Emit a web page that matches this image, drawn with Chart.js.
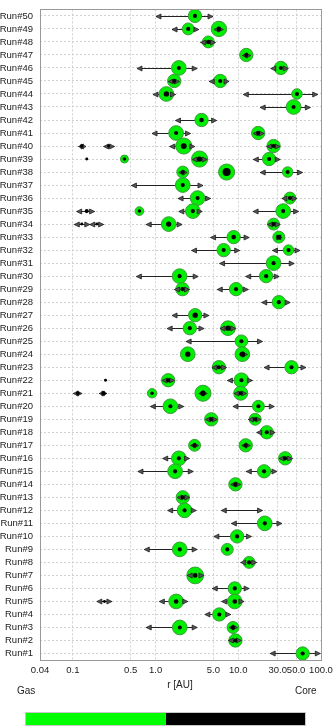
<!DOCTYPE html>
<html>
<head>
<meta charset="utf-8">
<script src="https://cdn.jsdelivr.net/npm/chart.js@4.4.1/dist/chart.umd.min.js"></script>
<style>
html, body { margin: 0; padding: 0; background: #fff; }
#wrap { position: relative; width: 333px; height: 727px; overflow: hidden; font-family: "Liberation Sans", Arial, sans-serif; color: #222; }
#wrap canvas { position: absolute; left: 0; top: 0; }
.lbl { position: absolute; font-size: 10px; line-height: 12px; white-space: nowrap; }
#cbar { position: absolute; left: 25px; top: 712px; width: 281px; height: 14px; display: flex; border: 1px solid #c8c8c8; box-sizing: border-box; }
#cbar div { flex: 1; }
</style>
</head>
<body>
<div id="wrap">
  <canvas id="chart" width="333" height="727"></canvas>
  <div class="lbl" style="left:0;width:360px;text-align:center;top:679px;">r [AU]</div>
  <div class="lbl" style="left:17px;top:685px;">Gas</div>
  <div class="lbl" style="left:295px;top:685px;">Core</div>
  <div id="cbar"><div style="background:#00ff00"></div><div style="background:#000"></div></div>
</div>
<script>
// runs on the y axis (Run#1 at the bottom)
const runs = [];
for (let i = 1; i <= 50; i++) runs.push('Run#' + i);

// x axis ticks
const xTicks = [0.04, 0.1, 0.5, 1, 5, 10, 30, 50, 100];
const xTickLabels = ['0.04', '0.1', '0.5', '1.0', '5.0', '10.0', '30.0', '50.0', '100.0'];

// one entry per planet
const planetRun = [50, 49, 49, 48, 47, 46, 46, 45, 45, 44,
  44, 43, 42, 41, 41, 40, 40, 40, 40, 39,
  39, 39, 39, 38, 38, 38, 37, 36, 36, 35,
  35, 35, 35, 34, 34, 34, 34, 33, 33, 32,
  32, 31, 30, 30, 29, 29, 28, 27, 26, 26,
  25, 24, 24, 23, 23, 22, 22, 22, 21, 21,
  21, 21, 21, 20, 20, 19, 19, 18, 17, 17,
  16, 16, 15, 15, 14, 13, 12, 12, 11, 10,
  9, 9, 8, 7, 6, 5, 5, 5, 4, 3,
  3, 2, 1];
const planetR = [2.99, 2.48, 5.83, 4.34, 12.5, 1.91, 32.7, 1.68, 6.05, 1.35,
  51.2, 46.6, 3.59, 1.77, 17.4, 0.128, 0.27, 2.19, 26.7, 0.147,
  0.42, 3.40, 23.6, 2.13, 7.22, 39.5, 2.13, 3.22, 42.1, 0.147,
  0.637, 2.82, 34.9, 0.128, 0.195, 1.44, 26.7, 8.79, 30.9, 6.65,
  40.5, 26.7, 1.95, 21.7, 2.11, 9.39, 30.9, 3.01, 2.59, 7.51,
  10.9, 2.45, 11.2, 5.83, 44.0, 0.248, 1.42, 10.9, 0.115, 0.235,
  0.906, 3.74, 10.7, 1.51, 17.5, 4.71, 16.0, 22.1, 2.96, 12.3,
  1.91, 36.9, 1.72, 20.5, 9.23, 2.13, 2.24, 10.7, 20.9, 9.67,
  1.96, 7.36, 13.5, 3.01, 9.06, 0.241, 1.77, 9.06, 5.89, 1.96,
  8.63, 9.23, 60];
const errLo = [1.01, 1.58, 5.07, 3.5, 11.2, 0.596, 24.7, 1.42, 4.45, 0.93,
  11.5, 18.4, 1.74, 0.906, 15.1, 0.117, 0.235, 1.48, 22, null,
  null, 2.77, 15.2, 1.91, null, 18.4, 0.51, 1.87, 33.7, 0.111,
  null, 1.91, 15.1, 0.104, 0.16, 0.77, 22.6, 4.62, 28.5, 2.72,
  25.9, 5.94, 0.585, 12.3, 1.69, 5.57, 19.2, 1.58, 1.38, 6.0,
  2.34, null, 10.2, 4.8, 20.5, null, 1.2, 7.38, 0.101, 0.208,
  null, 3.33, 8.88, 0.865, 8.63, 4.0, 13.2, 16.7, 2.64, 11.0,
  1.22, 31.2, 0.612, 12.5, 8.09, 1.82, 1.40, 6.23, 8.24, 5.07,
  0.73, null, 10.7, 2.41, 4.84, 0.195, 1.11, 6.29, 3.95, 0.77,
  7.72, 7.59, 24.3];
const errHi = [4.94, 3.33, 6.6, 5.3, 14.2, 3.18, 40.2, 1.95, 7.72, 1.74,
  91.2, 74.3, 5.47, 2.64, 20.5, 0.144, 0.319, 2.98, 32, null,
  null, 4.21, 32.1, 2.41, null, 59.8, 3.74, 4.62, 51.2, 0.183,
  null, 3.66, 53.6, 0.16, 0.235, 2.09, 32.1, 13.5, 33.5, 10.4,
  55.6, 47.4, 3.27, 31.2, 2.57, 13.2, 42.4, 4.41, 3.84, 9.3,
  19.6, null, 12.9, 7.2, 65.7, null, 1.69, 14.8, 0.129, 0.258,
  null, 4.21, 12.6, 2.19, 27.2, 5.57, 18.7, 27.9, 3.33, 14.0,
  2.57, 45.3, 2.85, 29.3, 10.7, 2.59, 3.10, 19.6, 33.7, 14.4,
  3.18, null, 16.7, 3.84, 13.5, 0.296, 2.45, 11.7, 8.09, 3.18,
  9.75, 10.9, 98];
// relative envelope (gas) and core sizes
const gasMass = [0.95, 0.85, 1.1, 0.85, 0.95, 1.05, 0.95, 0.95, 0.95, 1.05,
  0.75, 1.05, 0.95, 1.05, 0.95, 0, 0, 1.15, 0.95, 0,
  0.57, 1.15, 0.95, 0.85, 1.15, 0.75, 1.05, 1.05, 0.85, 0,
  0.62, 1.05, 1.05, 0, 0, 1.05, 0.85, 0.95, 0.85, 0.95,
  0.75, 1.05, 1.05, 0.95, 0.95, 0.95, 0.95, 0.95, 0.95, 1.05,
  0.9, 1.05, 1.05, 0.95, 0.95, 0, 0.95, 1.05, 0, 0,
  0.67, 1.15, 1.0, 1.05, 0.85, 0.95, 0.85, 0.95, 0.85, 0.95,
  1.05, 0.95, 1.05, 0.95, 0.95, 0.95, 1.05, 0, 1.05, 0.95,
  1.05, 0.85, 0.85, 1.2, 0.95, 0, 1.05, 1.05, 0.95, 1.05,
  0.85, 0.95, 0.95];
const coreMass = [0.9, 0.9, 1.0, 1.0, 0.9, 0.9, 0.9, 0.9, 0.9, 1.15,
  0.9, 0.9, 1.0, 0.9, 0.9, 0.75, 0.65, 1.25, 0.9, 0.65,
  0.75, 1.15, 0.9, 0.9, 1.75, 0.9, 0.9, 0.9, 0.9, 0.9,
  0.75, 0.9, 0.9, 0.65, 0.65, 1.15, 0.9, 1.0, 1.0, 0.9,
  0.9, 0.9, 0.9, 0.9, 0.9, 0.9, 0.9, 1.15, 0.9, 1.15,
  0.9, 1.15, 1.15, 0.9, 0.9, 0.65, 0.9, 0.9, 0.75, 0.9,
  0.75, 1.15, 0.9, 0.9, 0.9, 0.9, 0.9, 0.9, 0.9, 0.9,
  0.9, 0.9, 0.9, 0.9, 0.9, 0.9, 0.9, 0, 0.9, 0.9,
  0.9, 0.9, 0.9, 1.0, 0.9, 0.65, 1.0, 1.0, 0.9, 0.9,
  0.9, 0.9, 0.9];

const gasPts = [], gasRad = [], corePts = [], coreRad = [];
planetR.forEach(function(r, i) {
  if (gasMass[i] > 0) {
    gasPts.push({x: r, y: planetRun[i]});
    gasRad.push(gasMass[i] * 7);
  }
  if (coreMass[i] > 0) {
    corePts.push({x: r, y: planetRun[i]});
    coreRad.push(coreMass[i] * 2.3);
  }
});

function arrowHead(ctx, x, y, dir) {
  ctx.beginPath();
  ctx.moveTo(x, y);
  ctx.lineTo(x + dir * 5, y - 2.5);
  ctx.lineTo(x + dir * 5, y + 2.5);
  ctx.closePath();
  ctx.fill();
  ctx.stroke();
}

const errorBars = {
  id: 'errorBars',
  beforeDatasetsDraw(chart) {
    const ctx = chart.ctx, xs = chart.scales.x, ys = chart.scales.y;
    ctx.save();
    ctx.strokeStyle = '#222';
    ctx.lineWidth = 1;
    planetR.forEach(function(r, i) {
      if (errLo[i] == null) return;
      const y = Math.round(ys.getPixelForValue(planetRun[i])) + 0.5;
      ctx.beginPath();
      ctx.moveTo(xs.getPixelForValue(errLo[i]), y);
      ctx.lineTo(xs.getPixelForValue(errHi[i]), y);
      ctx.stroke();
    });
    ctx.restore();
  },
  afterDatasetDraw(chart, args) {
    if (args.index !== 0) return;
    const ctx = chart.ctx, xs = chart.scales.x, ys = chart.scales.y;
    ctx.save();
    ctx.fillStyle = '#555';
    ctx.strokeStyle = '#222';
    ctx.lineWidth = 0.8;
    planetR.forEach(function(r, i) {
      if (errLo[i] == null) return;
      const y = Math.round(ys.getPixelForValue(planetRun[i])) + 0.5;
      arrowHead(ctx, xs.getPixelForValue(errLo[i]), y, 1);
      arrowHead(ctx, xs.getPixelForValue(errHi[i]), y, -1);
    });
    ctx.restore();
  },
  afterDraw(chart) {
    const a = chart.chartArea, ctx = chart.ctx;
    ctx.save();
    ctx.strokeStyle = '#999';
    ctx.lineWidth = 1;
    ctx.strokeRect(Math.round(a.left) + 0.5, Math.round(a.top) + 0.5,
      Math.round(a.right - a.left), Math.round(a.bottom - a.top));
    ctx.restore();
  }
};

const tickFont = {family: '"Liberation Sans", Arial, sans-serif', size: 9.5};

new Chart(document.getElementById('chart'), {
  type: 'scatter',
  data: {
    datasets: [{
      data: gasPts,
      order: 2,
      pointRadius: gasRad,
      pointHoverRadius: gasRad,
      backgroundColor: '#00ee00',
      borderColor: '#3b9a3b',
      borderWidth: 1
    }, {
      data: corePts,
      order: 1,
      pointRadius: coreRad,
      pointHoverRadius: coreRad,
      backgroundColor: '#000',
      borderWidth: 0
    }]
  },
  options: {
    responsive: false,
    animation: false,
    devicePixelRatio: 1,
    layout: {padding: {top: 1, right: 12, left: 0, bottom: 0}},
    plugins: {legend: {display: false}, tooltip: {enabled: false}},
    scales: {
      x: {
        type: 'logarithmic',
        min: 0.04,
        max: 100,
        afterBuildTicks: function(s) { s.ticks = xTicks.map(v => ({value: v})); },
        afterFit: function(s) { s.height = 67; s.paddingLeft = 0; s.paddingRight = 0; },
        grid: {color: '#d0d0d0', drawTicks: false},
        border: {display: false, dash: [2, 2]},
        ticks: {
          autoSkip: false,
          maxRotation: 0,
          padding: 5,
          color: '#222',
          font: tickFont,
          callback: function(v, i) { return xTickLabels[i]; }
        }
      },
      y: {
        type: 'linear',
        min: 0.5,
        max: 50.5,
        afterBuildTicks: function(s) { s.ticks = runs.map((r, i) => ({value: i + 1})); },
        afterFit: function(s) { s.width = 40; s.paddingTop = 0; s.paddingBottom = 0; },
        grid: {color: '#d0d0d0', drawTicks: false},
        border: {display: false, dash: [2, 2]},
        ticks: {
          autoSkip: false,
          padding: 7,
          color: '#222',
          font: tickFont,
          callback: function(v) { return runs[v - 1]; }
        }
      }
    }
  },
  plugins: [errorBars]
});
</script>
</body>
</html>
